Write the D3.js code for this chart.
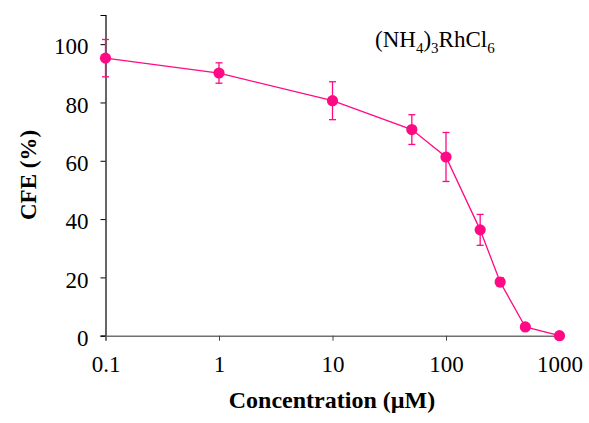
<!DOCTYPE html>
<html>
<head>
<meta charset="utf-8">
<script src="https://cdn.jsdelivr.net/npm/d3@7"></script>
<style>
  body { margin: 0; background: #fff; }
  text { font-family: "Liberation Serif", "Times New Roman", serif; }
</style>
</head>
<body>
<svg id="chart" width="589" height="423"></svg>
<script>
// concentration (uM), CFE (%) and error bar half-widths
var conc = [0.1, 1, 10, 50, 100, 200, 300, 500, 1000];
var cfe = [95.2, 90.1, 80.6, 70.7, 61.3, 36.3, 18.4, 3.0, 0];
var err = [6.4, 3.5, 6.5, 5.1, 8.4, 5.3, 1.5, 0, 0];
var xTicks = [0.1, 1, 10, 100, 1000];
var yTicks = [0, 20, 40, 60, 80, 100];

var pink = "#ff0a84";
var serif = "'Liberation Serif', 'Times New Roman', serif";
var svg = d3.select("#chart");

var x = d3.scaleLog().domain([0.1, 1000]).range([105.5, 559.5]);
var y = d3.scaleLinear().domain([0, 110]).range([335.7, 15]);

// y axis
var yAxis = svg.append("g")
  .attr("transform", "translate(105.5,0)")
  .call(d3.axisLeft(y).tickValues(yTicks).tickSize(5).tickPadding(12).tickFormat(d3.format("d")))
  .attr("font-family", serif).attr("font-size", 23);
yAxis.select(".domain").attr("stroke", "#000").attr("stroke-width", 1.2);
yAxis.selectAll("text").attr("fill", "#000").attr("dy", "0.42em");

// x axis
var xAxis = svg.append("g")
  .attr("transform", "translate(0,335.7)")
  .call(d3.axisBottom(x).tickValues(xTicks).tickSize(5).tickPadding(15)
    .tickFormat(function(d) { return d < 1 ? "0.1" : d3.format("d")(d); }))
  .attr("font-family", serif).attr("font-size", 23);
xAxis.select(".domain").attr("stroke", "#707070").attr("stroke-width", 1.4);
xAxis.selectAll(".tick line").attr("stroke", "#444");
xAxis.selectAll("text").attr("fill", "#000");

// axis titles
svg.append("text")
  .attr("x", 332).attr("y", 408)
  .attr("text-anchor", "middle")
  .attr("font-size", 24).attr("font-weight", "bold")
  .text("Concentration (µM)");

svg.append("text")
  .attr("transform", "translate(35.5,175) rotate(-90)")
  .attr("text-anchor", "middle")
  .attr("font-size", 23).attr("font-weight", "bold")
  .text("CFE (%)");

// compound label
var lab = svg.append("text").attr("x", 375).attr("y", 47).attr("font-size", 23);
lab.append("tspan").text("(NH");
lab.append("tspan").attr("font-size", 15).attr("dy", 6).text("4");
lab.append("tspan").attr("dy", -6).text(")");
lab.append("tspan").attr("font-size", 15).attr("dy", 6).text("3");
lab.append("tspan").attr("dy", -6).text("RhCl");
lab.append("tspan").attr("font-size", 15).attr("dy", 6).text("6");

var pts = conc.map(function(c, i) { return { c: c, v: cfe[i], e: err[i] }; });

// line
svg.append("path")
  .datum(pts)
  .attr("fill", "none")
  .attr("stroke", pink)
  .attr("stroke-width", 1.3)
  .attr("d", d3.line().x(function(d) { return x(d.c); }).y(function(d) { return y(d.v); }));

// error bars
var eb = svg.selectAll(".eb").data(pts.filter(function(d) { return d.e > 0; }))
  .enter().append("g").attr("class", "eb")
  .attr("stroke", pink).attr("stroke-width", 1.3);
eb.append("line")
  .attr("x1", function(d) { return x(d.c); }).attr("x2", function(d) { return x(d.c); })
  .attr("y1", function(d) { return y(d.v + d.e); }).attr("y2", function(d) { return y(d.v - d.e); });
eb.append("line")
  .attr("x1", function(d) { return x(d.c) - 3.5; }).attr("x2", function(d) { return x(d.c) + 3.5; })
  .attr("y1", function(d) { return y(d.v + d.e); }).attr("y2", function(d) { return y(d.v + d.e); });
eb.append("line")
  .attr("x1", function(d) { return x(d.c) - 3.5; }).attr("x2", function(d) { return x(d.c) + 3.5; })
  .attr("y1", function(d) { return y(d.v - d.e); }).attr("y2", function(d) { return y(d.v - d.e); });

// markers
svg.selectAll(".pt").data(pts)
  .enter().append("circle").attr("class", "pt")
  .attr("cx", function(d) { return x(d.c); })
  .attr("cy", function(d) { return y(d.v); })
  .attr("r", 5.6)
  .attr("fill", pink);
</script>
</body>
</html>
